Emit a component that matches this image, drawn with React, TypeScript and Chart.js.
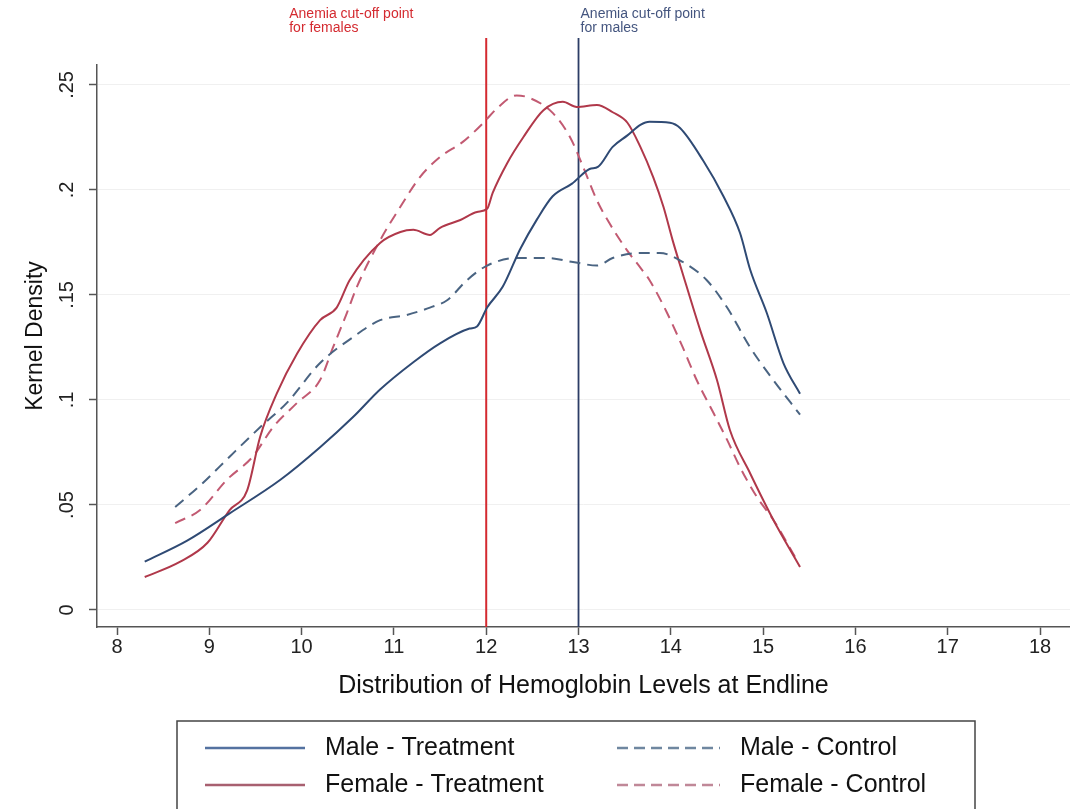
import React, { useEffect, useRef } from "react";
import { Chart, registerables } from "chart.js";

Chart.register(...registerables);

// ---------- Data ----------
const maleTreatX = [8.3, 8.76, 9.22, 9.77, 10.2, 10.56, 10.85, 11.21, 11.5, 11.82, 11.9, 12.01, 12.18, 12.37, 12.55, 12.72, 12.93, 13.12, 13.21, 13.37, 13.53, 13.67, 13.77, 13.99, 14.1, 14.35, 14.57, 14.75, 14.86, 15.04, 15.22, 15.4];
const maleTreatY = [0.023, 0.033, 0.046, 0.062, 0.0775, 0.092, 0.105, 0.118, 0.127, 0.134, 0.135, 0.144, 0.154, 0.172, 0.186, 0.197, 0.203, 0.21, 0.211, 0.2205, 0.226, 0.231, 0.2325, 0.232, 0.2295, 0.214, 0.197, 0.1795, 0.162, 0.1414, 0.1176, 0.103];

const maleCtrlX = [8.63, 8.93, 9.22, 9.55, 9.84, 10.2, 10.56, 10.85, 11.14, 11.39, 11.58, 11.79, 12.01, 12.33, 12.66, 12.94, 13.2, 13.37, 13.67, 13.88, 14.13, 14.39, 14.61, 14.86, 15.11, 15.4];
const maleCtrlY = [0.049, 0.0605, 0.073, 0.087, 0.0986, 0.1176, 0.13, 0.138, 0.1405, 0.144, 0.1476, 0.157, 0.164, 0.1676, 0.1676, 0.1657, 0.164, 0.1676, 0.17, 0.17, 0.1657, 0.157, 0.144, 0.125, 0.1095, 0.093];

const femTreatX = [8.3, 8.68, 8.98, 9.22, 9.41, 9.55, 9.73, 9.95, 10.2, 10.38, 10.52, 10.85, 11.07, 11.21, 11.39, 11.5, 11.72, 11.9, 12.01, 12.07, 12.23, 12.4, 12.62, 12.83, 12.98, 13.2, 13.37, 13.53, 13.67, 13.81, 13.92, 14.02, 14.13, 14.32, 14.5, 14.64, 14.86, 15.11, 15.4];
const femTreatY = [0.0157, 0.0229, 0.032, 0.0476, 0.057, 0.0824, 0.103, 0.122, 0.138, 0.144, 0.157, 0.1748, 0.18, 0.181, 0.1786, 0.182, 0.1857, 0.1895, 0.191, 0.1986, 0.213, 0.225, 0.238, 0.242, 0.2395, 0.2405, 0.237, 0.232, 0.2205, 0.206, 0.192, 0.176, 0.16, 0.133, 0.1095, 0.0857, 0.065, 0.043, 0.0205];

const femCtrlX = [8.63, 8.9, 9.19, 9.47, 9.69, 9.95, 10.2, 10.34, 10.49, 10.6, 10.85, 11.07, 11.28, 11.5, 11.75, 11.97, 12.12, 12.33, 12.47, 12.72, 12.91, 13.05, 13.2, 13.31, 13.53, 13.67, 13.77, 13.96, 14.13, 14.28, 14.46, 14.61, 14.75, 14.93, 15.11, 15.35];
const femCtrlY = [0.0414, 0.0476, 0.062, 0.073, 0.087, 0.0986, 0.1095, 0.125, 0.1414, 0.154, 0.176, 0.192, 0.206, 0.2157, 0.223, 0.232, 0.239, 0.245, 0.2438, 0.2367, 0.225, 0.211, 0.195, 0.186, 0.171, 0.163, 0.157, 0.1414, 0.125, 0.1095, 0.094, 0.081, 0.068, 0.054, 0.043, 0.025];

const xTickValues = [8, 9, 10, 11, 12, 13, 14, 15, 16, 17, 18];
const yTickValues = [0, 0.05, 0.1, 0.15, 0.2, 0.25];
const yTickLabels = ["0", ".05", ".1", ".15", ".2", ".25"];

const cutoffValues = [12, 13];
const cutoffLabels = [
  ["Anemia cut-off point", "for females"],
  ["Anemia cut-off point", "for males"],
];

const legendLabels = ["Male - Treatment", "Male - Control", "Female - Treatment", "Female - Control"];
const yTitle = "Kernel Density";
const xTitle = "Distribution of Hemoglobin Levels at Endline";

// ---------- Styles ----------
const C_MALE_T = "#2f4a74";
const C_MALE_C = "#4a6482";
const C_FEM_T = "#b0384a";
const C_FEM_C = "#c25a72";
const C_CUT_F = "#d42a30";
const C_CUT_M = "#2c3d66";
const FONT = "'Liberation Sans', Arial, Helvetica, sans-serif";

const Y_MIN = -0.0081;
const Y_MAX = 0.2595;
const CUT_TOP = 0.2724;

function pts(xs: number[], ys: number[]) {
  return xs.map((x, i) => ({ x, y: ys[i] }));
}

const overlayPlugin = {
  id: "overlay",
  afterDraw(chart: any) {
    const ctx = chart.ctx;
    const xs = chart.scales.x;
    const ys = chart.scales.y;
    ctx.save();
    // rotated y tick labels
    ctx.fillStyle = "#222";
    ctx.font = `20px ${FONT}`;
    ctx.textAlign = "center";
    ctx.textBaseline = "middle";
    yTickValues.forEach((v, i) => {
      const py = ys.getPixelForValue(v);
      ctx.save();
      ctx.translate(67, py);
      ctx.rotate(-Math.PI / 2);
      ctx.fillText(yTickLabels[i], 0, 0);
      ctx.restore();
    });
    // y title
    ctx.save();
    ctx.fillStyle = "#111";
    ctx.font = `23px ${FONT}`;
    ctx.translate(36, 336);
    ctx.rotate(-Math.PI / 2);
    ctx.fillText(yTitle, 0, 0);
    ctx.restore();

    // cut-off annotations
    ctx.font = `14px ${FONT}`;
    ctx.textAlign = "left";
    ctx.textBaseline = "middle";
    const fx = xs.getPixelForValue(cutoffValues[0]) - 197;
    ctx.fillStyle = C_CUT_F;
    ctx.fillText(cutoffLabels[0][0], fx, 14);
    ctx.fillText(cutoffLabels[0][1], fx, 28);
    const mx = xs.getPixelForValue(cutoffValues[1]) + 2;
    ctx.fillStyle = "#44557f";
    ctx.fillText(cutoffLabels[1][0], mx, 14);
    ctx.fillText(cutoffLabels[1][1], mx, 28);

    // legend
    ctx.strokeStyle = "#444";
    ctx.lineWidth = 1.5;
    ctx.strokeRect(177, 721, 798, 120);
    const rows = [748, 785];
    const cols = [
      { x0: 205, x1: 305, tx: 325 },
      { x0: 617, x1: 720, tx: 740 },
    ];
    const styles = [
      { c: "#5472a0", dash: [] as number[] },
      { c: "#6f87a0", dash: [11, 6] },
      { c: "#a86070", dash: [] as number[] },
      { c: "#c08898", dash: [11, 6] },
    ];
    ctx.font = `25px ${FONT}`;
    ctx.textBaseline = "middle";
    legendLabels.forEach((lab, i) => {
      const r = Math.floor(i / 2);
      const c = i % 2;
      const st = styles[i];
      ctx.beginPath();
      ctx.setLineDash(st.dash);
      ctx.strokeStyle = st.c;
      ctx.lineWidth = 2.5;
      ctx.moveTo(cols[c].x0, rows[r]);
      ctx.lineTo(cols[c].x1, rows[r]);
      ctx.stroke();
      ctx.setLineDash([]);
      ctx.fillStyle = "#111";
      ctx.fillText(lab, cols[c].tx, rows[r]);
    });
    ctx.restore();
  },
};

export default function App() {
  const ref = useRef<HTMLCanvasElement | null>(null);

  useEffect(() => {
    if (!ref.current) return;
    const chart = new Chart(ref.current, {
      type: "line",
      data: {
        datasets: [
          {
            label: legendLabels[0],
            data: pts(maleTreatX, maleTreatY),
            borderColor: C_MALE_T,
            borderWidth: 2,
            pointRadius: 0,
            cubicInterpolationMode: "monotone",
          },
          {
            label: legendLabels[1],
            data: pts(maleCtrlX, maleCtrlY),
            borderColor: C_MALE_C,
            borderWidth: 2,
            borderDash: [11, 7],
            pointRadius: 0,
            cubicInterpolationMode: "monotone",
          },
          {
            label: legendLabels[2],
            data: pts(femTreatX, femTreatY),
            borderColor: C_FEM_T,
            borderWidth: 2,
            pointRadius: 0,
            cubicInterpolationMode: "monotone",
          },
          {
            label: legendLabels[3],
            data: pts(femCtrlX, femCtrlY),
            borderColor: C_FEM_C,
            borderWidth: 2,
            borderDash: [11, 7],
            pointRadius: 0,
            cubicInterpolationMode: "monotone",
          },
          {
            label: "cutF",
            data: [
              { x: cutoffValues[0], y: Y_MIN },
              { x: cutoffValues[0], y: CUT_TOP },
            ],
            borderColor: C_CUT_F,
            borderWidth: 2,
            pointRadius: 0,
            clip: false as any,
          },
          {
            label: "cutM",
            data: [
              { x: cutoffValues[1], y: Y_MIN },
              { x: cutoffValues[1], y: CUT_TOP },
            ],
            borderColor: C_CUT_M,
            borderWidth: 1.8,
            pointRadius: 0,
            clip: false as any,
          },
        ],
      },
      options: {
        animation: false,
        responsive: false,
        maintainAspectRatio: false,
        layout: { padding: { left: 0, top: 65, right: 0, bottom: 108 } },
        plugins: {
          legend: { display: false },
          tooltip: { enabled: false },
        },
        scales: {
          x: {
            type: "linear",
            min: 7.783,
            max: 18.325,
            afterBuildTicks: (s: any) => {
              s.ticks = xTickValues.map((v) => ({ value: v }));
            },
            afterFit: (s: any) => {
              s.height = 74;
            },
            grid: {
              display: true,
              drawOnChartArea: false,
              drawTicks: true,
              tickLength: 8,
              tickColor: "#555",
              tickWidth: 1.5,
            },
            border: { display: true, color: "#555", width: 1.5 },
            ticks: {
              color: "#222",
              font: { family: FONT, size: 20 },
              padding: 0,
              maxRotation: 0,
              minRotation: 0,
              callback: (v: any) => String(v),
            },
            title: {
              display: true,
              text: xTitle,
              color: "#111",
              font: { family: FONT, size: 25 },
              padding: { top: 0, bottom: 0 },
            },
          },
          y: {
            type: "linear",
            min: Y_MIN,
            max: Y_MAX,
            afterBuildTicks: (s: any) => {
              s.ticks = yTickValues.map((v) => ({ value: v }));
            },
            afterFit: (s: any) => {
              s.width = 97;
            },
            grid: {
              display: true,
              color: "#f0f0f0",
              lineWidth: 1,
              drawTicks: true,
              tickLength: 8,
              tickColor: "#555",
              tickWidth: 1.5,
            },
            border: { display: true, color: "#555", width: 1.5 },
            ticks: { display: false },
            title: { display: false },
          },
        },
      },
      plugins: [overlayPlugin],
    } as any);
    return () => chart.destroy();
  }, []);

  return (
    <div style={{ position: "absolute", left: 0, top: 0, width: 1070, height: 809, background: "#fff" }}>
      <canvas ref={ref} width={1070} height={809} style={{ display: "block" }} />
    </div>
  );
}
